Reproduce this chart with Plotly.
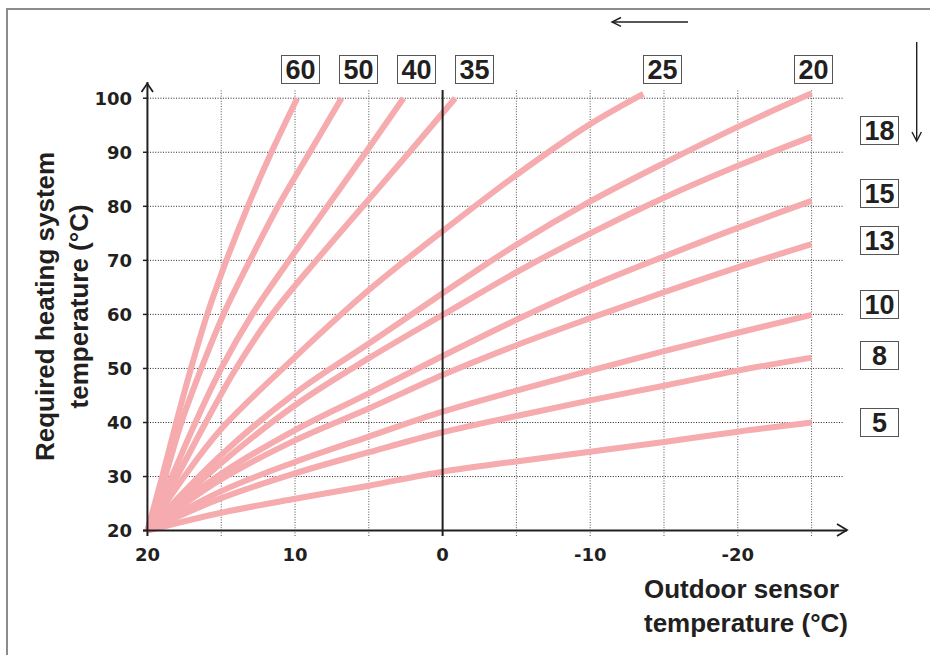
import plotly.graph_objects as go

# ---------------- data ----------------
curve_names = ["60", "50", "40", "35", "25", "20", "18", "15", "13", "10", "8", "5"]

# curves that reach -25 °C: values on these outdoor temperatures
x_grid = [20, 15, 10, 5, 0, -5, -10, -15, -20, -25]
curve_20 = [20, 34.0, 45.4, 54.6, 63.9, 72.9, 80.9, 88.0, 94.7, 100.9]
curve_18 = [20, 32.5, 43.2, 51.9, 59.9, 67.8, 75.0, 81.6, 87.5, 92.9]
curve_15 = [20, 30.5, 38.6, 45.4, 52.3, 59.0, 65.2, 70.7, 76.0, 81.0]
curve_13 = [20, 29.5, 36.7, 42.6, 48.8, 54.3, 59.3, 64.1, 68.7, 73.0]
curve_10 = [20, 27.3, 32.7, 37.4, 42.0, 45.9, 49.6, 53.2, 56.6, 59.9]
curve_8 = [20, 26.0, 30.6, 34.5, 38.2, 41.2, 44.1, 46.8, 49.6, 52.0]
curve_5 = [20, 23.3, 25.9, 28.3, 30.9, 32.8, 34.6, 36.4, 38.3, 40.0]

# steep curves: outdoor temperature where each system temperature is reached
y_levels = [20, 30, 40, 50, 60, 70, 80, 90, 100]
curve_60_x = [20, 19.0, 18.05, 17.05, 15.95, 14.65, 13.2, 11.6, 9.85]
curve_50_x = [20, 18.8, 17.7, 16.35, 14.85, 13.05, 11.15, 9.0, 6.85]
curve_40_x = [20, 18.35, 16.75, 15.0, 12.9, 10.4, 7.8, 5.2, 2.65]
curve_35_x = [20, 18.0, 16.05, 14.0, 11.55, 8.55, 5.4, 2.25, -0.85]

curve_25_x = [20, 17.5, 15, 10, 5, 0, -5, -10, -13.6]
curve_25_y = [20, 30, 38.8, 52.1, 64.5, 75.4, 85.8, 95.2, 100.8]

x_tick_vals = [20, 10, 0, -10, -20]
x_grid_lines = [15, 10, 5, -5, -10, -15, -20, -25]
y_tick_vals = [20, 30, 40, 50, 60, 70, 80, 90, 100]

x_title = "Outdoor sensor<br>temperature (°C)"
y_title = "Required heating system<br>temperature (°C)"

# ---------------- layout constants ----------------
W_FIG, H_FIG = 930, 655
L, T, W, H = 143, 82, 704, 454
X_RANGE = [20.3, -27.4]
Y_RANGE = [19, 103]
PINK = "#F6ABAF"
FONT = "DejaVu Sans"
INK = "#231f20"


def px_x(p):
    return (p - L) / W


def px_y(p):
    return (T + H - p) / H


series = [
    ("60", curve_60_x, y_levels),
    ("50", curve_50_x, y_levels),
    ("40", curve_40_x, y_levels),
    ("35", curve_35_x, y_levels),
    ("25", curve_25_x, curve_25_y),
    ("20", x_grid, curve_20),
    ("18", x_grid, curve_18),
    ("15", x_grid, curve_15),
    ("13", x_grid, curve_13),
    ("10", x_grid, curve_10),
    ("8", x_grid, curve_8),
    ("5", x_grid, curve_5),
]

fig = go.Figure()
for name, xs, ys in series:
    fig.add_trace(go.Scatter(
        x=xs, y=ys, mode="lines", name=name,
        line=dict(color=PINK, width=6, shape="spline", smoothing=1.0),
        hoverinfo="skip", showlegend=False,
    ))

shapes = []
# dotted grid
for yv in y_tick_vals[1:]:
    shapes.append(dict(type="line", xref="x", yref="y", x0=20, x1=-27.1, y0=yv, y1=yv,
                       line=dict(color="#222222", width=1, dash="1px,1.6px"), layer="below"))
for xv in x_grid_lines:
    shapes.append(dict(type="line", xref="x", yref="y", x0=xv, x1=xv, y0=19, y1=101.5,
                       line=dict(color="#555555", width=1, dash="1px,1.6px"), layer="below"))
# zero line
shapes.append(dict(type="line", xref="x", yref="y", x0=0, x1=0, y0=19, y1=101.5,
                   line=dict(color=INK, width=2), layer="above"))
# axes
shapes.append(dict(type="line", xref="x", yref="y", x0=20, x1=20, y0=19, y1=103,
                   line=dict(color=INK, width=2), layer="above"))
shapes.append(dict(type="line", xref="x", yref="y", x0=20.3, x1=-27.4, y0=20, y1=20,
                   line=dict(color=INK, width=2), layer="above"))


def chevron(tip, a, b, width=1.6):
    path = "M{:.5f},{:.5f} L{:.5f},{:.5f} L{:.5f},{:.5f}".format(
        px_x(a[0]), px_y(a[1]), px_x(tip[0]), px_y(tip[1]), px_x(b[0]), px_y(b[1]))
    return dict(type="path", xref="paper", yref="paper", path=path,
                line=dict(color=INK, width=width), layer="above")


def seg(p0, p1, width=1.4):
    return dict(type="line", xref="paper", yref="paper",
                x0=px_x(p0[0]), y0=px_y(p0[1]), x1=px_x(p1[0]), y1=px_y(p1[1]),
                line=dict(color=INK, width=width), layer="above")


# axis arrow heads
shapes.append(chevron((847, 530), (837, 524), (837, 536), 1.8))
shapes.append(chevron((147.3, 83.5), (141.5, 92), (153, 92), 1.8))
# top arrow (pointing left) and right arrow (pointing down)
shapes.append(seg((688, 22), (612, 22)))
shapes.append(chevron((612, 22), (621, 17.5), (621, 26.5), 1.4))
shapes.append(seg((916.7, 42), (916.7, 140.5)))
shapes.append(chevron((916.7, 141), (912, 132), (921.4, 132), 1.4))
# y tick marks
for yv in y_tick_vals:
    shapes.append(dict(type="line", xref="x", yref="y", x0=20.3, x1=20, y0=yv, y1=yv,
                       line=dict(color=INK, width=1.5), layer="above"))
# frame
shapes.append(dict(type="path", xref="paper", yref="paper",
                   path="M{:.5f},{:.5f} L{:.5f},{:.5f} L{:.5f},{:.5f}".format(
                       px_x(7), px_y(700), px_x(7), px_y(9), px_x(960), px_y(9)),
                   line=dict(color="#8c8c8c", width=2), layer="above"))

# curve labels (boxed)
label_pos = {
    "60": (300, 69), "50": (358, 69), "40": (416, 69), "35": (474, 69),
    "25": (662, 69), "20": (813, 69),
    "18": (879, 130), "15": (879, 193), "13": (879, 240),
    "10": (879, 304), "8": (879, 355), "5": (879, 422),
}
annotations = []
for name in curve_names:
    px, py = label_pos[name]
    annotations.append(dict(
        text="<b>" + name + "</b>", xref="paper", yref="paper", x=px_x(px), y=px_y(py),
        xanchor="center", yanchor="middle", showarrow=False,
        width=37, height=27, borderpad=0, bgcolor="white",
        bordercolor="#555555", borderwidth=1,
        font=dict(family="Liberation Sans", size=27, color=INK),
    ))

annotations.append(dict(
    text="<b>" + x_title.replace("<br>", "</b><br><b>") + "</b>", xref="paper", yref="paper",
    x=px_x(642), y=px_y(606), xanchor="left", yanchor="middle", align="left",
    showarrow=False, font=dict(family="Liberation Sans", size=26, color=INK),
))
annotations.append(dict(
    text="<b>" + y_title.replace("<br>", "</b><br><b>") + "</b>", xref="paper", yref="paper",
    x=px_x(62), y=px_y(307), xanchor="center", yanchor="middle", align="center",
    textangle=-90, showarrow=False,
    font=dict(family="Liberation Sans", size=26, color=INK),
))

tick_font = dict(family=FONT, size=18, color=INK, weight="bold")
fig.update_layout(
    width=W_FIG, height=H_FIG,
    margin=dict(l=L, r=W_FIG - L - W, t=T, b=H_FIG - T - H, pad=0),
    paper_bgcolor="white", plot_bgcolor="white",
    shapes=shapes, annotations=annotations,
    xaxis=dict(range=X_RANGE, showgrid=False, zeroline=False, showline=False,
               tickmode="array", tickvals=x_tick_vals, ticktext=[str(v) for v in x_tick_vals],
               ticks="", ticklabelstandoff=6, tickfont=tick_font),
    yaxis=dict(range=Y_RANGE, showgrid=False, zeroline=False, showline=False,
               tickmode="array", tickvals=y_tick_vals, ticktext=[str(v) for v in y_tick_vals],
               ticks="", ticklabelstandoff=10, tickfont=tick_font),
)

fig.write_html("out.html", config={"displayModeBar": False},
               post_script="document.body.style.margin='0';")
